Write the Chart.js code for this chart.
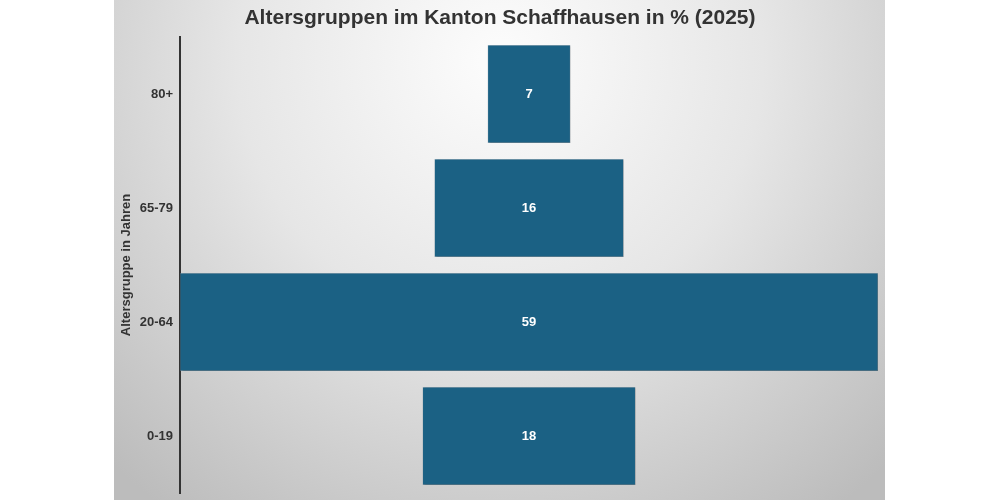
<!DOCTYPE html>
<html>
<head>
<meta charset="utf-8">
<script src="https://cdn.jsdelivr.net/npm/chart.js@4"></script>
<style>
  html, body { margin: 0; padding: 0; background: #fff; }
  #wrap { width: 1000px; height: 500px; }
</style>
</head>
<body>
<div id="wrap"><canvas id="ageChart" width="1000" height="500"></canvas></div>
<script>
const ageGroups = ['80+', '65-79', '20-64', '0-19'];
const sharePercent = [7, 16, 59, 18];
const chartTitle = 'Altersgruppen im Kanton Schaffhausen in % (2025)';

const halfSpan = Math.max(...sharePercent) / 2;
const FONT = '"Liberation Sans", Arial, sans-serif';

// grey radial panel behind the plot, plus the title centred on the page
const panelBackground = {
    id: 'panelBackground',
    beforeDraw(chart) {
        const c = chart.ctx;
        const x0 = 114, x1 = 885;
        const g = c.createRadialGradient(500, 60, 20, 500, 60, 560);
        g.addColorStop(0, '#fbfbfb');
        g.addColorStop(0.45, '#e6e6e6');
        g.addColorStop(1, '#bcbcbc');
        c.save();
        c.fillStyle = g;
        c.fillRect(x0, 0, x1 - x0, chart.height);
        c.fillStyle = '#333333';
        c.font = 'bold 21px ' + FONT;
        c.textAlign = 'center';
        c.textBaseline = 'middle';
        c.fillText(chartTitle, 500, 18);
        c.restore();
    }
};

const barShadow = {
    id: 'barShadow',
    beforeDatasetsDraw(chart) {
        const c = chart.ctx;
        c.save();
        c.shadowColor = 'rgba(0, 0, 0, 0.35)';
        c.shadowBlur = 2;
        c.shadowOffsetX = 1;
        c.shadowOffsetY = 1;
    },
    afterDatasetsDraw(chart) {
        chart.ctx.restore();
    }
};

const centerLabels = {
    id: 'centerLabels',
    afterDatasetsDraw(chart) {
        const c = chart.ctx;
        const meta = chart.getDatasetMeta(0);
        c.save();
        c.fillStyle = '#ffffff';
        c.font = 'bold 13px ' + FONT;
        c.textAlign = 'center';
        c.textBaseline = 'middle';
        meta.data.forEach((bar, i) => {
            const p = bar.getProps(['x', 'base', 'y'], true);
            c.fillText(String(sharePercent[i]), (p.x + p.base) / 2, p.y);
        });
        c.restore();
    }
};

const ctx = document.getElementById('ageChart').getContext('2d');
const ageChart = new Chart(ctx, {
    type: 'bar',
    data: {
        labels: ageGroups,
        datasets: [{
            label: 'Anteil in %',
            data: sharePercent.map(v => [-v / 2, v / 2]),
            backgroundColor: '#1b6184',
            borderColor: 'rgba(120, 150, 170, 0.6)',
            borderWidth: 0.5,
            borderSkipped: false,
            barPercentage: 0.86,
            categoryPercentage: 1
        }]
    },
    options: {
        indexAxis: 'y',
        responsive: false,
        animation: false,
        devicePixelRatio: 1,
        layout: {
            padding: { left: 114, right: 122, top: 37, bottom: 7 }
        },
        plugins: {
            legend: { display: false },
            tooltip: { enabled: false },
            title: { display: false }
        },
        scales: {
            x: {
                display: false,
                min: -halfSpan,
                max: halfSpan
            },
            y: {
                afterFit(scale) {
                    scale.width = 66;
                    scale.paddingTop = 0;
                    scale.paddingBottom = 0;
                },
                grid: { display: false, drawTicks: false },
                border: { display: true, color: '#333333', width: 2 },
                ticks: {
                    color: '#333333',
                    padding: 7,
                    font: { family: FONT, size: 13, weight: 'bold' }
                },
                title: {
                    display: true,
                    text: 'Altersgruppe in Jahren',
                    color: '#333333',
                    padding: { top: 5, bottom: 0 },
                    font: { family: FONT, size: 13, weight: 'bold' }
                }
            }
        }
    },
    plugins: [panelBackground, barShadow, centerLabels]
});
</script>
</body>
</html>
